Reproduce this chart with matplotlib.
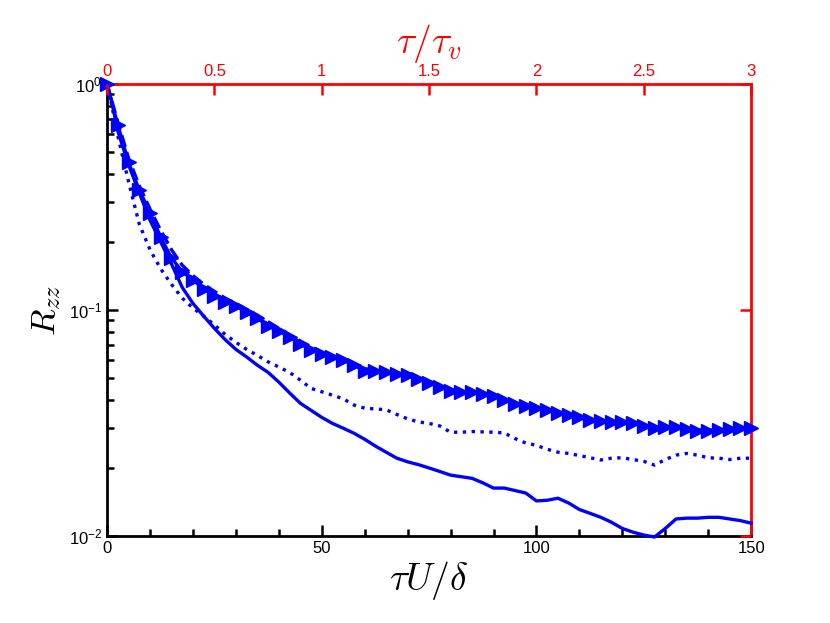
import numpy as np
import matplotlib
matplotlib.use("Agg")
import matplotlib.pyplot as plt
from matplotlib.ticker import MultipleLocator, LogLocator, NullFormatter

plt.rcParams['mathtext.fontset'] = 'cm'
plt.rcParams['font.family'] = ['Liberation Sans', 'DejaVu Sans']

# solid line
x_solid = [0, 1, 2.5, 5, 7.5, 10, 12.5, 15, 17.5, 20, 22.5, 25, 27.5, 30, 32.5, 35, 37.5,
           40, 42.5, 45, 47.5, 50, 52.5, 55, 57.5, 60, 62.5, 65, 67.5, 70, 72.5, 75,
           77.5, 80, 82.5, 85, 87.5, 90, 92.5, 95, 97.5, 100, 102.5, 105, 107.5, 110,
           112.5, 115, 117.5, 120, 122.5, 125, 127.5, 130, 132.5, 135, 137.5, 140,
           142.5, 145, 147.5, 150]
y_solid = [1.0, 0.85, 0.62, 0.44, 0.33, 0.25, 0.2, 0.16, 0.126, 0.107, 0.094, 0.083,
           0.074, 0.067, 0.062, 0.057, 0.053, 0.048, 0.043, 0.0387, 0.036, 0.0335,
           0.0315, 0.030, 0.0285, 0.0268, 0.025, 0.0235, 0.0221, 0.0213, 0.0207, 0.020,
           0.0193, 0.0186, 0.0183, 0.018, 0.0172, 0.0163, 0.0163, 0.0159, 0.0155,
           0.0143, 0.0144, 0.0147, 0.0140, 0.0131, 0.0126, 0.0121, 0.0115, 0.0108,
           0.0104, 0.0101, 0.0099, 0.0108, 0.0119, 0.0120, 0.0120, 0.0121, 0.0121,
           0.0119, 0.0117, 0.0114]

# dotted line
x_dot = x_solid
y_dot = [1.0, 0.82, 0.59, 0.37, 0.24, 0.185, 0.152, 0.13, 0.113, 0.102, 0.094, 0.086,
         0.078, 0.072, 0.067, 0.063, 0.059, 0.056, 0.053, 0.049, 0.045, 0.0435, 0.042,
         0.0405, 0.038, 0.0368, 0.0365, 0.0362, 0.0345, 0.033, 0.032, 0.0315, 0.0307,
         0.0288, 0.0288, 0.029, 0.0289, 0.0288, 0.0286, 0.027, 0.0258, 0.0252, 0.0242,
         0.0235, 0.0232, 0.0227, 0.0222, 0.0217, 0.0221, 0.0222, 0.0218, 0.0214,
         0.0206, 0.0218, 0.0228, 0.0232, 0.0228, 0.0222, 0.0221, 0.0218, 0.0221, 0.0221]

# dashed line
x_dash = [0, 2.5, 5, 7.5, 10, 12.5, 15, 17.5, 20, 22.5, 25, 27.5, 30, 35, 40, 45, 50,
          55, 60, 65, 70, 75, 80, 85, 90, 95, 100, 105, 110, 115, 120, 125, 130, 135,
          140, 145, 150]
y_dash = [1.0, 0.68, 0.47, 0.355, 0.28, 0.225, 0.185, 0.158, 0.142, 0.13, 0.121, 0.113,
          0.107, 0.095, 0.083, 0.073, 0.065, 0.0605, 0.055, 0.0535, 0.0515, 0.048,
          0.0442, 0.0433, 0.0415, 0.0386, 0.0371, 0.0353, 0.0336, 0.0322, 0.0318,
          0.0308, 0.0303, 0.0297, 0.0293, 0.0298, 0.0301]

# line with triangles
x_tri = [0, 2.5, 5, 7.5, 10, 12.5, 15, 17.5, 20, 22.5, 25, 27.5, 30, 32.5, 35, 37.5, 40,
         42.5, 45, 47.5, 50, 52.5, 55, 57.5, 60, 62.5, 65, 67.5, 70, 72.5, 75, 77.5, 80,
         82.5, 85, 87.5, 90, 92.5, 95, 97.5, 100, 102.5, 105, 107.5, 110, 112.5, 115,
         117.5, 120, 122.5, 125, 127.5, 130, 132.5, 135, 137.5, 140, 142.5, 145, 147.5,
         150]
y_tri = [1.0, 0.66, 0.45, 0.34, 0.27, 0.21, 0.17, 0.148, 0.136, 0.124, 0.116, 0.109,
         0.104, 0.098, 0.092, 0.085, 0.081, 0.076, 0.071, 0.0665, 0.064, 0.062, 0.060,
         0.057, 0.054, 0.0535, 0.053, 0.052, 0.0515, 0.0495, 0.0478, 0.0455, 0.044,
         0.0436, 0.0432, 0.0425, 0.0415, 0.040, 0.0385, 0.0375, 0.037, 0.036, 0.0352,
         0.0342, 0.0335, 0.0327, 0.0322, 0.0319, 0.0318, 0.0315, 0.0308, 0.030, 0.0303,
         0.0304, 0.0297, 0.0292, 0.0293, 0.0294, 0.0298, 0.030, 0.0301]

top_ticks = [0, 0.5, 1, 1.5, 2, 2.5, 3]
top_labels = ['0', '0.5', '1', '1.5', '2', '2.5', '3']

fig = plt.figure(figsize=(8.3, 6.23), dpi=100)
ax = fig.add_axes([0.129, 0.1396, 0.776, 0.7254])

blue = '#0000ff'
ax.plot(x_solid, y_solid, '-', color=blue, lw=2.4, clip_on=False, zorder=3)
ax.plot(x_dot, y_dot, ':', color=blue, lw=2.4, clip_on=False, zorder=3)
ax.plot(x_dash, y_dash, '--', color=blue, lw=2.4, clip_on=False, zorder=3)
ax.plot(x_tri, y_tri, '-', color=blue, lw=2.4, marker='>', ms=10, clip_on=False, zorder=4)

ax.set_yscale('log')
ax.set_xlim(0, 150)
ax.set_ylim(1e-2, 1e0)
ax.xaxis.set_major_locator(MultipleLocator(50))
ax.xaxis.set_minor_locator(MultipleLocator(10))
ax.yaxis.set_minor_locator(LogLocator(base=10, subs=np.arange(2, 10)))
ax.yaxis.set_minor_formatter(NullFormatter())
ax.tick_params(which='both', direction='in', top=True, right=True, width=1.8, labelsize=12)
ax.tick_params(which='major', length=8)
ax.tick_params(which='minor', length=5)
for s in ax.spines.values():
    s.set_linewidth(2)
ax.spines['right'].set_color('red')
ax.spines['top'].set_color('red')

ax.set_xlabel(r'$\tau U/\delta$', fontsize=27, labelpad=2)
ax.set_ylabel(r'$R_{zz}$', fontsize=25, labelpad=4)

# top axis
ax2 = ax.twiny()
ax2.set_xlim(0, 3)
ax2.set_xticks(top_ticks)
ax2.set_xticklabels(top_labels)
ax2.tick_params(axis='x', direction='in', colors='red', length=8, width=1.8, labelsize=12)
for s in ax2.spines.values():
    s.set_visible(False)
ax2.set_xlabel(r'$\tau/\tau_v$', fontsize=27, color='red', labelpad=8)

# right red major ticks
ax3 = ax.twinx()
ax3.set_yscale('log')
ax3.set_ylim(1e-2, 1e0)
ax3.yaxis.set_minor_locator(plt.NullLocator())
ax3.tick_params(axis='y', direction='in', colors='red', length=8, width=1.8, labelright=False)
for s in ax3.spines.values():
    s.set_visible(False)

fig.savefig('out.png', dpi=100)
